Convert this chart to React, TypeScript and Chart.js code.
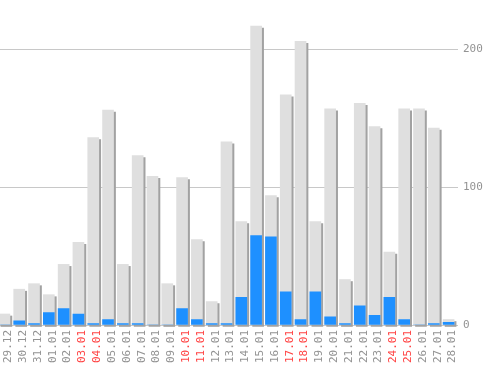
import React, { useEffect, useRef } from "react";
import { Chart, registerables } from "chart.js";

Chart.register(...registerables);

const labels = [
  "29.12", "30.12", "31.12", "01.01", "02.01", "03.01", "04.01", "05.01",
  "06.01", "07.01", "08.01", "09.01", "10.01", "11.01", "12.01", "13.01",
  "14.01", "15.01", "16.01", "17.01", "18.01", "19.01", "20.01", "21.01",
  "22.01", "23.01", "24.01", "25.01", "26.01", "27.01", "28.01",
];

const redLabels = ["03.01", "04.01", "10.01", "11.01", "17.01", "18.01", "24.01", "25.01"];

const totalValues = [
  8, 26, 30, 22, 44, 60, 136, 156, 44, 123, 108, 30, 107, 62, 17, 133,
  75, 217, 94, 167, 206, 75, 157, 33, 161, 144, 53, 157, 157, 143, 4,
];

const blueValues = [
  0, 3, 1, 9, 12, 8, 1, 4, 1, 1, 0, 0, 12, 4, 1, 1,
  20, 65, 64, 24, 4, 24, 6, 1, 14, 7, 20, 4, 0, 1, 2,
];

const yTicks = [0, 100, 200];

const GRAY_TEXT = "#939393";
const RED_TEXT = "#ff4444";

const shadowPlugin = {
  id: "barShadow",
  beforeDatasetDraw(chart: any, args: any) {
    if (args.index === 1) {
      const ctx = chart.ctx;
      ctx.save();
      ctx.shadowColor = "#a2a2a2";
      ctx.shadowOffsetX = 2;
      ctx.shadowOffsetY = 2;
      ctx.shadowBlur = 0;
    }
  },
  afterDatasetDraw(chart: any, args: any) {
    if (args.index === 1) chart.ctx.restore();
  },
};

export default function App() {
  const ref = useRef<HTMLCanvasElement | null>(null);

  useEffect(() => {
    if (!ref.current) return;
    Chart.defaults.font.family = "'DejaVu Sans Mono', monospace";
    Chart.defaults.font.size = 11;
    const chart = new Chart(ref.current, {
      type: "bar",
      data: {
        labels,
        datasets: [
          {
            data: blueValues,
            backgroundColor: "#1e90ff",
            barThickness: 11,
            grouped: false,
          },
          {
            data: totalValues,
            backgroundColor: "#dfdfdf",
            barThickness: 11,
            grouped: false,
            clip: false,
          },
        ],
      },
      options: {
        animation: false,
        responsive: false,
        events: [],
        layout: { padding: 0 },
        plugins: { legend: { display: false }, tooltip: { enabled: false } },
        scales: {
          x: {
            grid: { display: false, drawTicks: false, tickLength: 0 },
            border: { display: false },
            ticks: {
              autoSkip: false,
              minRotation: 90,
              maxRotation: 90,
              padding: 5,
              labelOffset: 4,
              color: (c: any) => (redLabels.includes(labels[c.index]) ? RED_TEXT : GRAY_TEXT),
              font: { size: 11, family: "'DejaVu Sans Mono', monospace" },
            },
            afterFit: (s: any) => {
              s.height = 45;
            },
          },
          y: {
            position: "right",
            min: 0,
            max: 227.5,
            afterBuildTicks: (s: any) => {
              s.ticks = yTicks.map((v) => ({ value: v }));
            },
            afterFit: (s: any) => {
              s.width = 42;
            },
            grid: { color: "#c8c8c8", lineWidth: 1, drawTicks: true, tickLength: 2 },
            border: { display: false },
            ticks: {
              padding: 5,
              color: GRAY_TEXT,
              font: { size: 11, family: "'DejaVu Sans Mono', monospace" },
            },
          },
        },
      },
      plugins: [shadowPlugin],
    } as any);
    return () => chart.destroy();
  }, []);

  return (
    <div style={{ position: "absolute", left: -3, top: 0, width: 501, height: 370, background: "#fff" }}>
      <canvas ref={ref} width={501} height={370} style={{ display: "block" }} />
    </div>
  );
}
